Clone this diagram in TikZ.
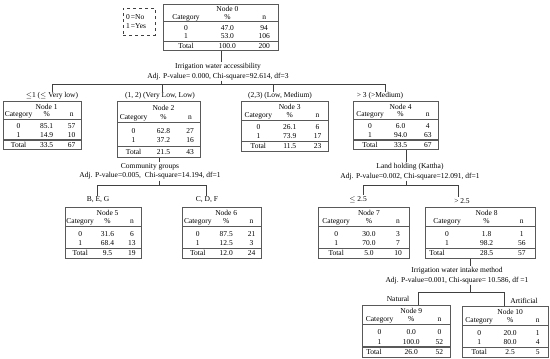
\documentclass[tikz,border=0pt]{standalone}
\usepackage{fontspec}
\setmainfont{Liberation Serif}
\usetikzlibrary{calc}
\tikzset{
  tbl/.style={draw=black!65, line width=0.6pt, inner sep=0pt, rectangle, fill=white},
  txt/.style={inner sep=0pt, anchor=base, font=\fontsize{7.5}{8}\selectfont},
  lbl/.style={inner sep=0.8pt, font=\fontsize{7.5}{9.5}\selectfont, align=center},
  rulethin/.style={draw=black!65, line width=0.6pt},
  rulethick/.style={draw=black!65, line width=1.3pt},
  conn/.style={draw=black!75, line width=0.6pt},
  legendbox/.style={draw=black!75, dashed, line width=0.6pt, inner sep=2pt, align=left,
    font=\fontsize{7.5}{9}\selectfont, minimum width=32pt, minimum height=27pt, text width=26pt},
}
\newcommand\tbox[6]{%
  \def\tbname{#1}%
  \pgfmathsetmacro\tL{#2}%
  \pgfmathsetmacro\tT{#3}%
  \pgfmathsetmacro\tW{#4}%
  \pgfmathsetmacro\tH{#5}%
  \pgfmathsetmacro\cA{#2+0.2*#4}%
  \pgfmathsetmacro\cB{#2+0.56*#4}%
  \pgfmathsetmacro\cC{#2+0.88*#4}%
  \node[tbl, minimum width=#4pt, minimum height=#5pt, anchor=north west] (#1) at (#2,#3) {};
  \node[txt] (#1-title) at (\cB,\tT+0.115*\tH+2.6) {Node #6};
  \node[txt] (#1-hc) at (\cA,\tT+0.275*\tH+2.6) {Category};
  \node[txt] (#1-hp) at (\cB,\tT+0.275*\tH+2.6) {\%};
  \node[txt] (#1-hn) at (\cC,\tT+0.275*\tH+2.6) {n};
  \draw[rulethin] (\tL,\tT+0.38*\tH) -- (\tL+\tW,\tT+0.38*\tH);
  \draw[rulethick] (\tL,\tT+0.81*\tH) -- (\tL+\tW,\tT+0.81*\tH);
}
\newcommand\trows[7][\cA]{%
  \node[txt] (\tbname-c0) at (\cA,\tT+0.525*\tH+2.6) {0};
  \node[txt] (\tbname-p0) at (\cB,\tT+0.525*\tH+2.6) {#2};
  \node[txt] (\tbname-n0) at (\cC,\tT+0.525*\tH+2.6) {#3};
  \node[txt] (\tbname-c1) at (\cA,\tT+0.7*\tH+2.6) {1};
  \node[txt] (\tbname-p1) at (\cB,\tT+0.7*\tH+2.6) {#4};
  \node[txt] (\tbname-n1) at (\cC,\tT+0.7*\tH+2.6) {#5};
  \node[txt] (\tbname-ct) at (#1,\tT+0.905*\tH+2.6) {Total};
  \node[txt] (\tbname-pt) at (\cB,\tT+0.905*\tH+2.6) {#6};
  \node[txt] (\tbname-nt) at (\cC,\tT+0.905*\tH+2.6) {#7};
}
\begin{document}
\begin{tikzpicture}[x=1pt,y=-1pt]
\useasboundingbox (0,0) rectangle (550,359);

% legend
\node[legendbox] (leg) at (139,21.5) {0\,=No\\1\,=Yes};

% tables
\tbox{n0}{163}{4}{115}{46}{0}\trows{47.0}{94}{53.0}{106}{100.0}{200}
\tbox{n1}{3}{101}{78}{48}{1}\trows{85.1}{57}{14.9}{10}{33.5}{67}
\tbox{n2}{117}{101}{83}{56}{2}\trows{62.8}{27}{37.2}{16}{21.5}{43}
\tbox{n3}{241}{101}{87}{50}{3}\trows{26.1}{6}{73.9}{17}{11.5}{23}
\tbox{n4}{353}{101}{85}{48}{4}\trows{6.0}{4}{94.0}{63}{33.5}{67}
\tbox{n5}{65}{207}{76}{51}{5}\trows{31.6}{6}{68.4}{13}{9.5}{19}
\tbox{n6}{182}{207}{79}{51}{6}\trows{87.5}{21}{12.5}{3}{12.0}{24}
\tbox{n7}{318}{207}{91}{51}{7}\trows{30.0}{3}{70.0}{7}{5.0}{10}
\tbox{n8}{425}{207}{110}{51}{8}\trows[\tL+12]{1.8}{1}{98.2}{56}{28.5}{57}
\tbox{n9}{362}{305}{88}{52}{9}\trows[\tL+12]{0.0}{0}{100.0}{52}{26.0}{52}
\tbox{n10}{462}{306}{86}{51}{10}\trows{20.0}{1}{80.0}{4}{2.5}{5}

% split 0
\node[lbl] (sp0) at (218,71.5) {Irrigation water accessibility\\Adj. P-value= 0.000, Chi-square=92.614, df=3};
\coordinate (b0a) at (52,84);
\coordinate (b0b) at (162,84);
\coordinate (b0c) at (273,84);
\coordinate (b0d) at (385,84);
\node[lbl] (l1) at (52,96) {$\leq$1 ($\leq$ Very low)};
\node[lbl] (l2) at (160,96) {(1, 2) (Very Low, Low)};
\node[lbl] (l3) at (280,96) {(2,3) (Low, Medium)};
\node[lbl] (l4) at (380,96) {> 3 (>Medium)};
\draw[conn] (n0.south) -- (n0.south |- sp0.north);
\draw[conn] (n0.south |- sp0.south) -- (n0.south |- b0a);
\draw[conn] (b0a) -- (b0d);
\draw[conn] (b0a) -- (b0a |- l1.north);
\draw[conn] (b0b) -- (b0b |- l2.north);
\draw[conn] (b0c) -- (b0c |- l3.north);
\draw[conn] (b0d) -- (b0d |- l4.north);

% split 2
\node[lbl] (sp2) at (150,171.5) {Community groups\\Adj. P-value=0.005,\ \ Chi-square=14.194, df=1};
\coordinate (b2a) at (97,185);
\coordinate (b2b) at (206,185);
\node[lbl] (l5) at (98,200) {B, E, G};
\node[lbl] (l6) at (207,200) {C, D, F};
\draw[conn] (n2.south) -- (n2.south |- sp2.north);
\draw[conn] (n2.south |- sp2.south) -- (n2.south |- b2a);
\draw[conn] (b2a) -- (b2b);
\draw[conn] (b2a) -- (b2a |- l5.north);
\draw[conn] (b2b) -- (b2b |- l6.north);

% split 4
\coordinate (k4) at (406,0);
\node[lbl] (sp4) at (410,171.5) {Land holding (Kattha)\\Adj. P-value=0.002, Chi-square=12.091, df=1};
\coordinate (b4a) at (363,185);
\coordinate (b4b) at (458,185);
\node[lbl] (l7) at (358,199.5) {$\leq$ 2.5};
\node[lbl] (l8) at (462,201) {> 2.5};
\draw[conn] (n4.south -| k4) -- (sp4.north -| k4);
\draw[conn] (sp4.south -| k4) -- (b4a -| k4);
\draw[conn] (b4a) -- (b4b);
\draw[conn] (b4a) -- (b4a |- l7.north);
\draw[conn] (b4b) -- (b4b |- l8.north);

% split 8
\coordinate (k8) at (470,0);
\node[lbl] (sp8) at (457,275.5) {Irrigation water intake method\\Adj. P-value=0.001, Chi-square= 10.586, df =1};
\coordinate (b8a) at (418,292);
\coordinate (b8b) at (504,292);
\node[lbl] (l9) at (398,299) {Natural};
\node[lbl] (l10) at (524,301) {Artificial};
\draw[conn] (n8.south -| k8) -- (sp8.north -| k8);
\draw[conn] (sp8.south -| k8) -- (b8a -| k8);
\draw[conn] (b8a) -- (b8b);
\draw[conn] (b8a) -- (b8a |- n9.north);
\draw[conn] (b8b) -- (b8b |- n10.north);
\end{tikzpicture}
\end{document}
